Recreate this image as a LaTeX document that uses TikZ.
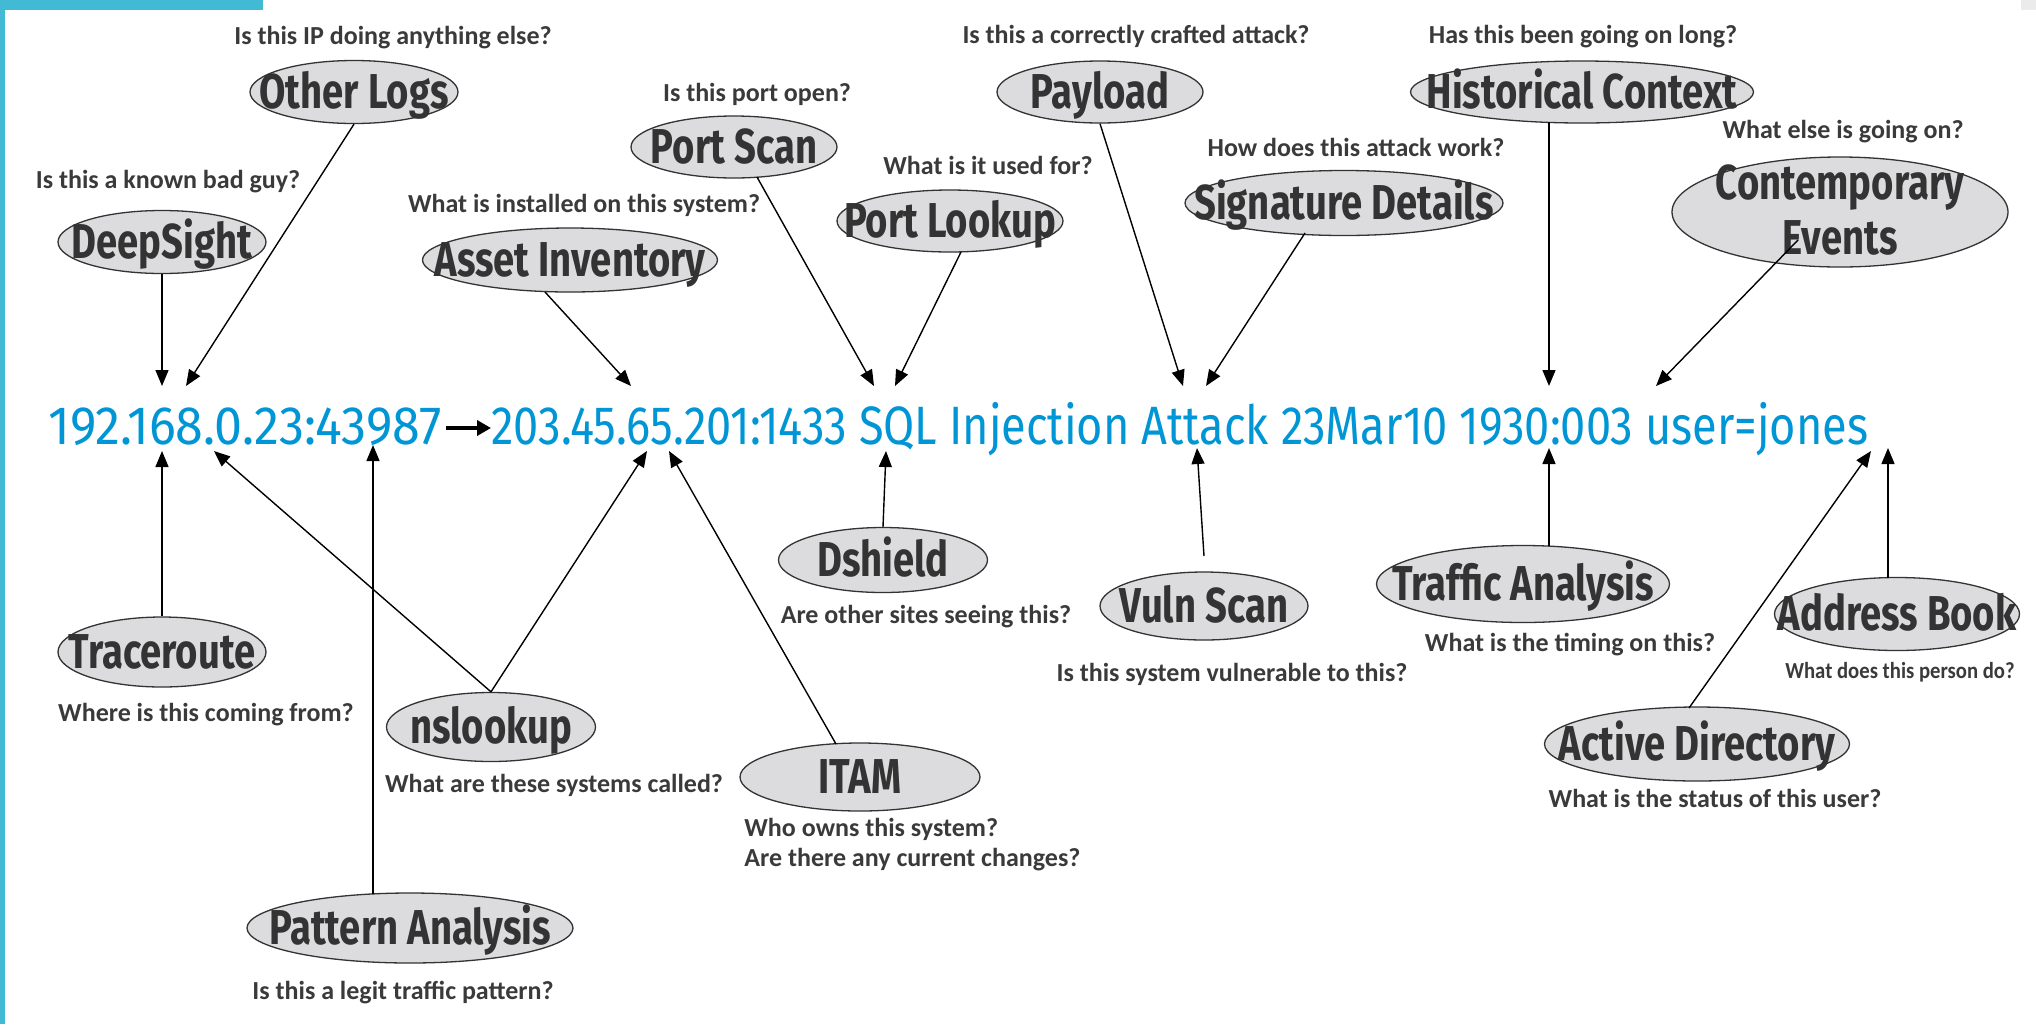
\documentclass[tikz,border=0pt]{standalone}
\usepackage{fontspec}
\usetikzlibrary{shapes.geometric,arrows.meta,calc}
\newfontfamily\lblfont[FakeStretch=0.78]{Fira Sans}
\newfontfamily\qfont{Carlito}
\newfontfamily\qfontc[FakeStretch=0.9]{Carlito}
\newfontfamily\ipfontA[FakeStretch=0.93]{Fira Sans}
\newfontfamily\ipfontB[FakeStretch=0.836]{Fira Sans}
\definecolor{hpblue}{RGB}{0,150,214}
\definecolor{framecol}{RGB}{66,186,212}
\definecolor{ellfill}{RGB}{220,220,223}
\definecolor{ink}{RGB}{51,51,51}
\definecolor{qink}{RGB}{58,58,58}
\begin{document}
\begin{tikzpicture}[x=0.5pt,y=-0.5pt,
  tool/.style 2 args={ellipse, draw=ink, line width=0.65pt, fill=ellfill, inner sep=0pt, minimum width=#1, minimum height=#2},
  lbl/.style={text=ink, inner sep=0pt, text height=16.9pt, text depth=0pt, font=\lblfont\bfseries\fontsize{24.5}{28}\selectfont},
  ques/.style={text=qink, inner sep=0pt, text height=8.4pt, text depth=0pt, font=\qfont\bfseries\fontsize{13}{15}\selectfont},
  link/.style={line width=0.7pt, draw=black, -{Triangle[length=8pt,width=6.5pt]}},
  ip/.style={text=hpblue, inner sep=0pt, anchor=west, text height=18.6pt, text depth=0pt},
]
\fill[white] (0,0) rectangle (2036,1024);
\useasboundingbox (0,0) rectangle (2036,1024);
\fill[framecol] (0,0) rectangle (5,1024);
\fill[framecol] (0,0) rectangle (263,10);
\fill[black!8] (2021,0) rectangle (2036,10);

% main line
\node[ip, font=\ipfontA\fontsize{27}{30}\selectfont] (ipA) at (48,426) {192.168.0.23:43987};
\node[ip, font=\ipfontB\fontsize{27}{30}\selectfont] (ipB) at (491,426) {203.45.65.201:1433 SQL Injection Attack 23Mar10 1930:003 user=jones};
\draw[line width=2.2pt, -{Triangle[length=7pt,width=7.5pt]}] ([xshift=2pt,yshift=-1pt]ipA.east) -- ([yshift=-1pt]ipB.west);

% top tools
\node[tool={104pt}{31.5pt}] (otherlogs) at (354,92) {};
\node[lbl] (otherlogsT) at (otherlogs) {Other Logs};
\node[tool={104pt}{31.5pt}] (deepsight) at (162,242) {};
\node[lbl] (deepsightT) at (deepsight) {DeepSight};
\node[tool={147.5pt}{32pt}] (asset) at (570,260) {};
\node[lbl] (assetT) at (asset) {Asset Inventory};
\node[tool={103pt}{31pt}] (portscan) at (734,147) {};
\node[lbl] (portscanT) at (portscan) {Port Scan};
\node[tool={113pt}{31pt}] (portlookup) at (950,221) {};
\node[lbl] (portlookupT) at (portlookup) {Port Lookup};
\node[tool={103pt}{31pt}] (payload) at (1100,92) {};
\node[lbl] (payloadT) at (payload) {Payload};
\node[tool={159pt}{32.5pt}] (sig) at (1344,203) {};
\node[lbl] (sigT) at (sig) {Signature Details};
\node[tool={171.5pt}{31pt}] (hist) at (1582,92) {};
\node[lbl] (histT) at (hist) {Historical Context};
\node[tool={168pt}{55pt}] (contemp) at (1840,212) {};
\node[lbl] (contempT1) at (1840,183) {Contemporary};
\node[lbl] (contempT2) at (1840,238) {Events};

% bottom tools
\node[tool={104pt}{35pt}] (trace) at (162,652) {};
\node[lbl] (traceT) at (trace) {Traceroute};
\node[tool={104.5pt}{34.5pt}] (nslookup) at (491,727) {};
\node[lbl] (nslookupT) at (nslookup) {nslookup};
\node[tool={163pt}{35pt}] (pattern) at (410,928) {};
\node[lbl] (patternT) at (pattern) {Pattern Analysis};
\node[tool={104.5pt}{32.5pt}] (dshield) at (883,560) {};
\node[lbl] (dshieldT) at (dshield) {Dshield};
\node[tool={120pt}{34pt}] (itam) at (860,777) {};
\node[lbl] (itamT) at (itam) {ITAM};
\node[tool={104pt}{34pt}] (vuln) at (1204,606) {};
\node[lbl] (vulnT) at (vuln) {Vuln Scan};
\node[tool={146.5pt}{38.5pt}] (traffic) at (1523,584) {};
\node[lbl] (trafficT) at (traffic) {Traffic Analysis};
\node[tool={122.5pt}{36.5pt}] (address) at (1897,614) {};
\node[lbl] (addressT) at (address) {Address Book};
\node[tool={152.5pt}{37pt}] (active) at (1697,744) {};
\node[lbl] (activeT) at (active) {Active Directory};

% questions
\node[ques] (qOther) at (393,36) {Is this IP doing anything else?};
\node[ques] (qDeep) at (168,180) {Is this a known bad guy?};
\node[ques] (qAsset) at (584,204) {What is installed on this system?};
\node[ques] (qPortScan) at (757,93) {Is this port open?};
\node[ques] (qPortLookup) at (988,166) {What is it used for?};
\node[ques] (qPayload) at (1136,35) {Is this a correctly crafted attack?};
\node[ques] (qSig) at (1356,148) {How does this attack work?};
\node[ques] (qHist) at (1583,35) {Has this been going on long?};
\node[ques] (qContemp) at (1843,130) {What else is going on?};
\node[ques] (qTrace) at (206,713) {Where is this coming from?};
\node[ques] (qNs) at (554,784) {What are these systems called?};
\node[ques] (qPattern) at (403,991) {Is this a legit traffic pattern?};
\node[ques] (qDshield) at (926,615) {Are other sites seeing this?};
\node[ques, anchor=north west, align=left, text height=, text depth=] (qItam) at (744,818) {Who owns this system?\\Are there any current changes?};
\node[ques] (qVuln) at (1232,673) {Is this system vulnerable to this?};
\node[ques] (qTraffic) at (1570,643) {What is the timing on this?};
\node[ques, font=\qfontc\bfseries\fontsize{11.5}{13}\selectfont] (qAddress) at (1900,670) {What does this person do?};
\node[ques] (qActive) at (1715,799) {What is the status of this user?};

% arrow targets on the event line
\coordinate (tDeep) at (162,386);
\coordinate (tOther) at (186,386);
\coordinate (tAsset) at (631,386);
\coordinate (tPortScan) at (874,386);
\coordinate (tPortLookup) at (895,386);
\coordinate (tPayload) at (1183,386);
\coordinate (tSig) at (1206,386);
\coordinate (tHist) at (1549,386);
\coordinate (tContemp) at (1656,386);
\coordinate (tTrace) at (162,451);
\coordinate (tPattern) at (373,445);
\coordinate (tNsA) at (214,451);
\coordinate (tNsB) at (647,451);
\coordinate (tItam) at (669,451);
\coordinate (tDshield) at (886,451);
\coordinate (tVuln) at (1197,448);
\coordinate (tTraffic) at (1549,448);
\coordinate (tActive) at (1871,451);
\coordinate (tAddress) at (1888,448);

% connectors
\draw[link] (deepsight.south) -- (tDeep);
\draw[link] (otherlogs.south) -- (tOther);
\draw[link] ($(asset)+(-25,32)$) -- (tAsset);
\draw[link] ($(portscan)+(23,30)$) -- (tPortScan);
\draw[link] ($(portlookup)+(11,31)$) -- (tPortLookup);
\draw[link] (payload.south) -- (tPayload);
\draw[link] ($(sig)+(-39,30)$) -- (tSig);
\draw[link] ($(hist)+(-33,30)$) -- (tHist);
\draw[link] ($(contemp)+(-42,28)$) -- (tContemp);
\draw[link] (trace.north) -- (tTrace);
\draw[link] ($(pattern)+(-37,-34)$) -- (tPattern);
\draw[link] (nslookup.north) -- (tNsA);
\draw[link] (nslookup.north) -- (tNsB);
\draw[link] ($(itam)+(-24,-33)$) -- (tItam);
\draw[link] (dshield.north) -- (tDshield);
\draw[link] ($(vuln)+(0,-50)$) -- (tVuln);
\draw[link] ($(traffic)+(26,-38)$) -- (tTraffic);
\draw[link] ($(active)+(-8,-36)$) -- (tActive);
\draw[link] ($(address)+(-9,-36)$) -- (tAddress);
\end{tikzpicture}
\end{document}
